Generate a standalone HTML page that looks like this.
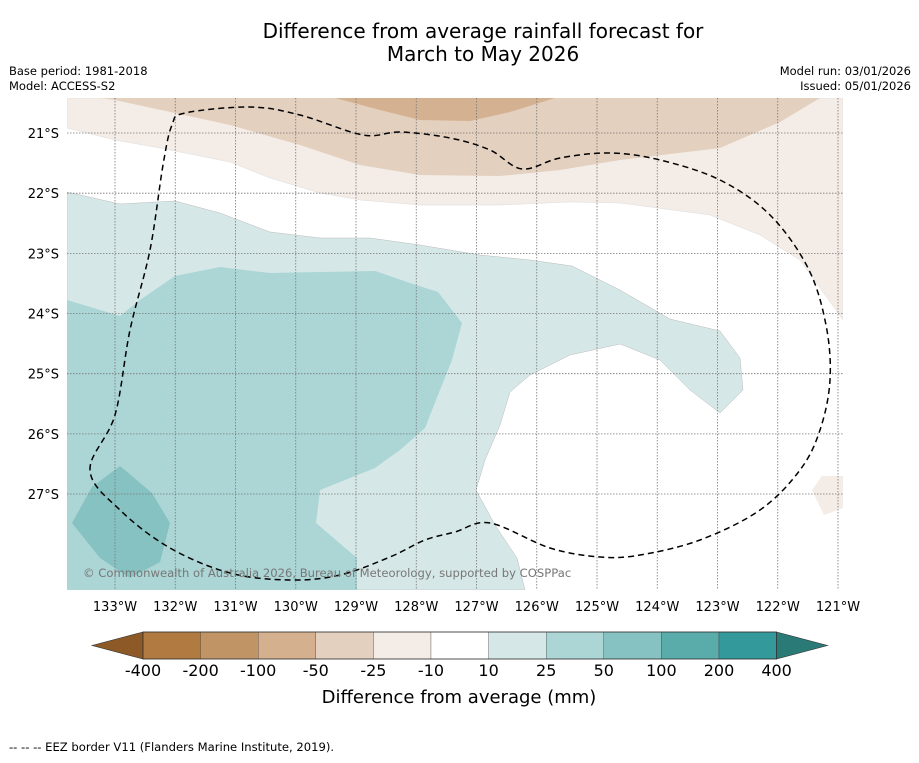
<!DOCTYPE html>
<html><head><meta charset="utf-8"><style>
body{margin:0;background:#fff;font-family:"Liberation Sans","DejaVu Sans",sans-serif;}
svg text{font-family:"DejaVu Sans","Liberation Sans",sans-serif;}
</style></head><body>
<svg width="919" height="758" viewBox="0 0 919 758" xmlns="http://www.w3.org/2000/svg">
<text x="483" y="38" text-anchor="middle" font-size="20">Difference from average rainfall forecast for</text>
<text x="483" y="61" text-anchor="middle" font-size="20">March to May 2026</text>
<text x="9" y="75" font-size="11.5">Base period: 1981-2018</text>
<text x="9" y="90" font-size="11.5">Model: ACCESS-S2</text>
<text x="911" y="75" font-size="11.5" text-anchor="end">Model run: 03/01/2026</text>
<text x="911" y="90" font-size="11.5" text-anchor="end">Issued: 05/01/2026</text>
<defs><clipPath id="mc"><rect x="67" y="98" width="776" height="492"/></clipPath></defs>
<g id="map" clip-path="url(#mc)">
<rect x="67" y="98" width="776" height="492" fill="#ffffff"/>
<path fill="#f4ece6" stroke="#ddd" stroke-width="0.5" d="M67,98 L843,98 L843,320 L800,260 L760,235 L710,215 L620,203 L570,202 L500,205 L420,205 L360,200 L320,193 L270,178 L230,162 L160,148 L115,140 L67,128 Z"/>
<path fill="#e3d0bf" d="M100,98 L115,100 L175,113 L230,125 L300,145 L360,165 L420,175 L500,176 L560,170 L620,160 L720,148 L780,122 L820,98 Z"/>
<path fill="#d4b190" d="M335,98 L380,110 L420,120 L470,121 L510,112 L555,98 Z"/>
<path fill="#f4ece6" d="M822,476 L843,476 L843,508 L824,515 L812,490 Z"/>
<path fill="#d5e8e7" stroke="#bbb" stroke-width="0.5" d="M67,192 L120,204 L175,201 L220,213 L270,232 L320,238 L370,238 L420,245 L480,255 L530,260 L572,266 L620,290 L670,319 L720,331 L740,358 L743,390 L720,413 L690,390 L660,360 L620,344 L570,355 L530,375 L510,392 L500,425 L485,460 L476,490 L495,525 L517,558 L525,590 L67,590 Z"/>
<path fill="#acd5d5" d="M67,300 L120,316 L140,300 L175,276 L220,267 L270,273 L320,272 L375,271 L410,283 L438,292 L462,323 L452,360 L438,395 L425,428 L400,450 L375,468 L320,490 L316,523 L357,558 L357,590 L67,590 Z"/>
<path fill="#85c2c1" d="M92,487 L120,466 L152,493 L170,523 L160,562 L130,578 L100,558 L72,523 Z"/>
<g id="grid" stroke="#777" stroke-width="0.8" stroke-dasharray="1.5,1.5" fill="none"></g>
<path id="eez" fill="none" stroke="#000" stroke-width="1.5" stroke-dasharray="6,4" d=""/>
<text x="83" y="577" font-size="11.6" fill="#777">© Commonwealth of Australia 2026, Bureau of Meteorology, supported by COSPPac</text>
</g>
<g id="axes"></g>
<g id="cbar"></g>
<text x="459" y="703" text-anchor="middle" font-size="18">Difference from average (mm)</text>
<text x="9" y="751" font-size="11.6">--  --  -- EEZ border V11 (Flanders Marine Institute, 2019).</text>
</svg>
<script>
const lonTicks=[133,132,131,130,129,128,127,126,125,124,123,122,121];
const latTicks=[21,22,23,24,25,26,27];
const latLabels=["21°S","22°S","23°S","24°S","25°S","26°S","27°S"];
const cbarLevels=["-400","-200","-100","-50","-25","-10","10","25","50","100","200","400"];
const cbarColors=["#b07a40","#c19466","#d4b08f","#e3d0bf","#f4ece6","#ffffff","#d5e8e7","#acd5d5","#85c2c1","#5aacab","#33999a"];
const NS="http://www.w3.org/2000/svg";
const xLon=l=>115+(133-l)*60.25;
const yLat=l=>133+(l-21)*60.17;
function mk(t,a,p){const e=document.createElementNS(NS,t);for(const k in a)e.setAttribute(k,a[k]);p.appendChild(e);return e;}
// EEZ outline (smoothed closed curve)
const P=[[90,470],[115,415],[130,330],[150,250],[163,165],[172,125],[185,113],[250,107],[300,115],[363,135],[400,132],[450,138],[490,150],[522,169],[560,158],[610,153],[660,160],[720,180],[770,215],[808,268],[826,325],[830,380],[820,430],[800,470],[760,510],[700,540],[640,555],[600,557],[550,548],[490,523],[455,532],[425,540],[390,557],[340,575],[290,580],[230,573],[170,548],[120,510]];
let d=`M${P[0][0]},${P[0][1]}`;const n=P.length;
for(let i=0;i<n;i++){const p0=P[(i-1+n)%n],p1=P[i],p2=P[(i+1)%n],p3=P[(i+2)%n];
 d+=` C${p1[0]+(p2[0]-p0[0])/6},${p1[1]+(p2[1]-p0[1])/6} ${p2[0]-(p3[0]-p1[0])/6},${p2[1]-(p3[1]-p1[1])/6} ${p2[0]},${p2[1]}`;}
document.getElementById('eez').setAttribute('d',d);
const grid=document.getElementById('grid'),axes=document.getElementById('axes'),cb=document.getElementById('cbar');
lonTicks.forEach(l=>{const x=xLon(l);
 const g=mk('line',{x1:x,x2:x,y1:98,y2:590},grid);
 
 
 const t=mk('text',{x:x,y:611,'text-anchor':'middle','font-size':13},axes);t.textContent=l+'°W';
 
 });
latTicks.forEach((l,i)=>{const y=yLat(l);
 const g=mk('line',{x1:67,x2:843,y1:y,y2:y},grid);
 
 
 const t=mk('text',{x:59,y:y+5,'text-anchor':'end','font-size':13},axes);t.textContent=latLabels[i];
 
 });
const cx0=143,cw=57.6,cy=632,ch=27;
const lt=mk('polygon',{points:`${cx0},${cy} ${cx0-51},${cy+ch/2} ${cx0},${cy+ch}`,fill:'#8d5a27',stroke:'#333','stroke-width':0.6},cb);


cbarColors.forEach((c,i)=>{const r=mk('rect',{x:cx0+i*cw,y:cy,width:cw,height:ch,fill:c,stroke:'#333','stroke-width':0.3},cb);
 
 });
const xe=cx0+cbarColors.length*cw;
const rt=mk('polygon',{points:`${xe},${cy} ${xe+51},${cy+ch/2} ${xe},${cy+ch}`,fill:'#2a7a78',stroke:'#333','stroke-width':0.6},cb);


mk('rect',{x:cx0,y:cy,width:xe-cx0,height:ch,fill:'none',stroke:'#333','stroke-width':0.8},cb);
cbarLevels.forEach((v,i)=>{const t=mk('text',{x:cx0+i*cw,y:676,'text-anchor':'middle','font-size':16},cb);t.textContent=v;
 
 });
</script>
</body></html>
